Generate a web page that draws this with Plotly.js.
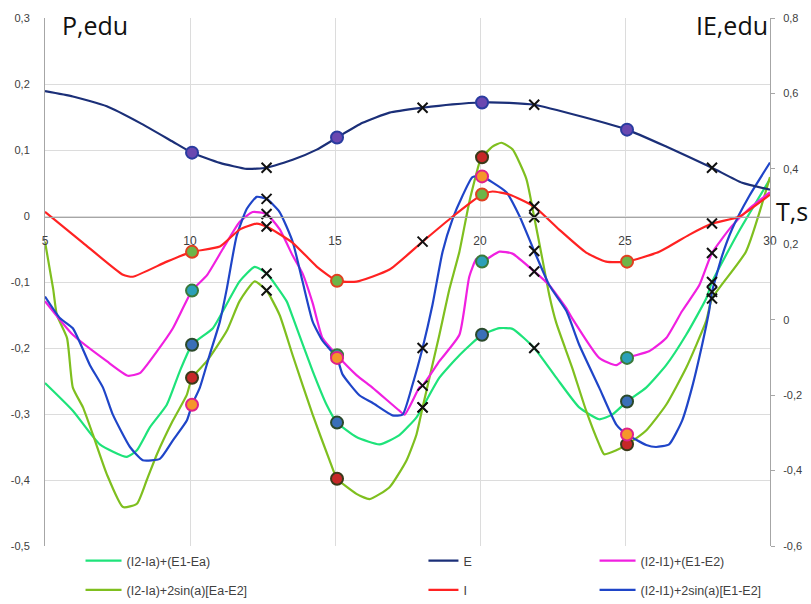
<!DOCTYPE html>
<html>
<head>
<meta charset="utf-8">
<script src="https://cdn.plot.ly/plotly-3.0.1.min.js"></script>
<style>html,body{margin:0;padding:0;background:#fff;}#chart{width:811px;height:604px;}</style>
</head>
<body>
<div id="chart"></div>
<script>
// ---- Data (T in s) ----
const circleT = [10.07, 15.07, 20.07, 25.07];
const crossT  = [12.64, 18.02, 21.87, 28.0];

// (I2-Ia)+(E1-Ea)  (left axis)
const greenT = [5,5.96,6.89,7.82,8.17,8.62,9.20,9.65,10.07,10.79,11.37,11.71,12.23,12.64,13.33,13.54,14.23,14.71,15.07,15.74,16.54,17.22,17.81,18.02,18.60,19.29,20.07,20.67,21.12,21.87,22.63,23.42,24.11,24.56,25.07,25.73,26.42,27.11,27.80,28.0,28.93,30];
const greenP = [-0.253,-0.295,-0.346,-0.365,-0.355,-0.320,-0.286,-0.235,-0.195,-0.170,-0.125,-0.099,-0.077,-0.087,-0.129,-0.153,-0.235,-0.286,-0.313,-0.335,-0.346,-0.332,-0.305,-0.290,-0.245,-0.211,-0.180,-0.170,-0.171,-0.200,-0.245,-0.290,-0.308,-0.301,-0.281,-0.260,-0.226,-0.180,-0.125,-0.100,-0.023,0.056];

// (I2-Ia)+2sin(a)[Ea-E2]  (left axis)
const oliveT = [5,5.28,5.41,5.76,5.96,6.31,6.65,7.13,7.69,8.17,8.51,8.86,9.41,9.89,10.07,10.58,11.27,11.71,12.23,12.64,13.09,13.54,14.23,14.81,15.07,15.74,16.19,16.88,17.47,17.81,18.02,18.60,18.95,19.29,19.63,19.98,20.07,20.43,20.74,21.12,21.60,21.87,22.15,22.39,22.63,23.18,23.66,24.11,24.28,24.70,25.07,25.73,26.42,27.11,27.80,28.0,29.17,30];
const oliveP = [-0.039,-0.110,-0.150,-0.185,-0.260,-0.290,-0.331,-0.391,-0.441,-0.436,-0.400,-0.361,-0.310,-0.271,-0.245,-0.220,-0.174,-0.129,-0.099,-0.113,-0.150,-0.211,-0.301,-0.370,-0.398,-0.421,-0.429,-0.411,-0.370,-0.331,-0.290,-0.180,-0.110,-0.054,0.021,0.081,0.089,0.105,0.111,0.101,0.056,-0.002,-0.065,-0.120,-0.162,-0.230,-0.295,-0.346,-0.361,-0.355,-0.346,-0.325,-0.286,-0.230,-0.159,-0.125,-0.054,0.059];

// (I2-I1)+(E1-E2)  (left axis)
const magT = [5,5.96,7.13,7.86,8.27,8.86,9.41,10.07,10.58,11.13,11.71,12.16,12.64,13.09,13.54,13.88,14.23,14.57,15.07,15.74,16.29,17.22,17.40,17.91,18.02,18.60,19.29,19.63,19.88,20.07,20.67,21.12,21.87,22.39,22.98,23.18,24.11,24.70,25.07,25.83,26.42,26.97,27.56,28.0,28.69,29.28,30];
const magP = [-0.129,-0.180,-0.220,-0.242,-0.238,-0.205,-0.170,-0.113,-0.090,-0.050,-0.009,0.006,0.003,-0.020,-0.060,-0.087,-0.132,-0.185,-0.211,-0.241,-0.260,-0.295,-0.301,-0.260,-0.257,-0.220,-0.180,-0.092,-0.065,-0.069,-0.054,-0.057,-0.084,-0.105,-0.140,-0.155,-0.215,-0.226,-0.215,-0.205,-0.185,-0.144,-0.105,-0.056,-0.015,0.011,0.036];

// (I2-I1)+2sin(a)[E1-E2]  (left axis)
const blueT = [5,5.52,5.96,6.55,7.00,7.34,7.93,8.37,8.96,9.41,9.89,10.07,10.34,10.68,11.03,11.27,11.61,11.96,12.30,12.64,13.09,13.54,13.88,14.23,14.57,15.07,15.26,15.85,16.29,16.98,17.33,17.67,18.02,18.36,18.71,19.05,19.39,19.74,20.07,20.43,20.91,21.36,21.87,22.39,22.98,23.42,24.11,24.70,25.07,25.73,26.07,26.52,26.97,27.31,27.66,27.90,28.0,28.35,28.69,29.28,30];
const blueP = [-0.122,-0.155,-0.170,-0.226,-0.260,-0.301,-0.350,-0.370,-0.368,-0.340,-0.310,-0.286,-0.260,-0.210,-0.160,-0.110,-0.030,0.011,0.029,0.026,0.006,-0.039,-0.099,-0.160,-0.189,-0.215,-0.240,-0.272,-0.283,-0.302,-0.301,-0.256,-0.200,-0.135,-0.054,-0.005,0.030,0.059,0.060,0.051,0.036,0.000,-0.053,-0.105,-0.144,-0.195,-0.260,-0.316,-0.331,-0.347,-0.350,-0.346,-0.310,-0.260,-0.195,-0.144,-0.115,-0.060,-0.020,0.030,0.081];

// E  (right axis)
const eT = [5,5.96,7.13,8.27,9.41,10.07,11.03,11.96,12.64,13.54,14.37,15.07,15.95,16.88,18.02,19.05,20.07,21.01,21.87,23.53,25.07,26.42,28.0,29.04,30];
const eV = [0.606,0.592,0.566,0.522,0.472,0.443,0.416,0.400,0.403,0.424,0.451,0.483,0.522,0.549,0.562,0.571,0.576,0.575,0.570,0.538,0.504,0.459,0.403,0.363,0.345];

// I  (right axis)
const iT = [5,6.31,7.69,8.03,9.20,10.07,11.03,11.71,12.30,12.64,13.54,14.37,15.07,15.74,16.88,18.02,19.05,20.07,20.43,21.01,21.87,22.73,23.66,24.35,25.07,26.18,27.21,28.0,28.93,30];
const iV = [0.286,0.204,0.119,0.114,0.154,0.180,0.194,0.239,0.255,0.247,0.204,0.141,0.103,0.101,0.133,0.207,0.273,0.332,0.340,0.332,0.300,0.239,0.178,0.154,0.154,0.180,0.225,0.255,0.273,0.332];

const xTicks = [5,10,15,20,25,30];
const yLeftTicks = [-0.5,-0.4,-0.3,-0.2,-0.1,0,0.1,0.2,0.3];
const yLeftText = ['-0,5','-0,4','-0,3','-0,2','-0,1','0','0,1','0,2','0,3'];
const yRightTicks = [-0.6,-0.4,-0.2,0,0.2,0.4,0.6,0.8];
const yRightText = ['-0,6','-0,4','-0,2','0','0,2','0,4','0,6','0,8'];

// ---- build traces ----
function pick(xs, ys, marks){
  const ox=[], oy=[];
  marks.forEach(m=>{ const k = xs.indexOf(m); if(k>=0){ox.push(xs[k]); oy.push(ys[k]);} });
  return {x:ox, y:oy};
}
const series = [
  {name:'(I2-Ia)+(E1-Ea)', x:greenT, y:greenP, color:'#1ee37a', fill:'#3a6fb8', edge:'#2b4a2b', axis:'y', legend:'legend'},
  {name:'(I2-Ia)+2sin(a)[Ea-E2]', x:oliveT, y:oliveP, color:'#7fbf1f', fill:'#c62828', edge:'#3a3a1a', axis:'y', legend:'legend'},
  {name:'E', x:eT, y:eV, color:'#1b2f78', fill:'#6a48b0', edge:'#2a3ca0', axis:'y2', legend:'legend2'},
  {name:'I', x:iT, y:iV, color:'#ff2222', fill:'#6cb548', edge:'#e04020', axis:'y2', legend:'legend2'},
  {name:'(I2-I1)+(E1-E2)', x:magT, y:magP, color:'#f020e0', fill:'#2aa0b8', edge:'#3a7a3a', axis:'y', legend:'legend3'},
  {name:'(I2-I1)+2sin(a)[E1-E2]', x:blueT, y:blueP, color:'#1f45c8', fill:'#f5962a', edge:'#e0208a', axis:'y', legend:'legend3'}
];
const traces = [];
series.forEach((s,i)=>{
  traces.push({type:'scatter', mode:'lines', name:s.name, x:s.x, y:s.y, yaxis:s.axis,
    line:{color:s.color, width:2.2, shape:'spline', smoothing:0.5},
    legend:s.legend, legendgroup:'g'+i, hoverinfo:'skip'});
});
series.forEach((s,i)=>{
  const c = pick(s.x, s.y, crossT);
  traces.push({type:'scatter', mode:'markers', x:c.x, y:c.y, yaxis:s.axis, showlegend:false, hoverinfo:'skip',
    marker:{symbol:'x-thin', size:10, line:{color:'#111', width:2}}});
});
series.forEach((s,i)=>{
  const c = pick(s.x, s.y, circleT);
  traces.push({type:'scatter', mode:'markers', x:c.x, y:c.y, yaxis:s.axis, showlegend:false, hoverinfo:'skip',
    marker:{symbol:'circle', size:12, color:s.fill, line:{color:s.edge, width:2}}});
});

const tickFont = {family:'Liberation Sans, Arial, sans-serif', size:11, color:'#404040'};
const legFont = {family:'Liberation Sans Narrow, Liberation Sans, Arial, sans-serif', size:12.5, color:'#404040'};
const legBase = {orientation:'v', xanchor:'left', yanchor:'top', y:0.0, font:legFont, bgcolor:'rgba(0,0,0,0)', itemwidth:36, tracegroupgap:10, traceorder:'grouped'};

const layout = {
  width:811, height:604,
  margin:{l:45, r:41, t:18, b:58, autoexpand:false},
  paper_bgcolor:'#ffffff', plot_bgcolor:'#ffffff',
  showlegend:true,
  xaxis:{range:[5,30], tickvals:xTicks, ticktext:xTicks.map(String), anchor:'free', position:0.623,
    showgrid:true, gridcolor:'#dcdcdc', gridwidth:1, zeroline:false,
    showline:true, linecolor:'#a6a6a6', linewidth:1.2, ticks:'', tickfont:{family:'Liberation Sans, Arial, sans-serif', size:12, color:'#404040'}, ticklabelstandoff:12},
  yaxis:{range:[-0.5,0.3], tickvals:yLeftTicks, ticktext:yLeftText, showgrid:true, gridcolor:'#dcdcdc', gridwidth:1,
    zeroline:false, showline:true, linecolor:'#a6a6a6', linewidth:1, ticks:'', tickfont:tickFont, ticklabelstandoff:12},
  yaxis2:{range:[-0.6,0.8], tickvals:yRightTicks, ticktext:yRightText, overlaying:'y', side:'right', showgrid:false,
    zeroline:false, showline:true, linecolor:'#a6a6a6', linewidth:1, ticks:'outside', ticklen:4, tickcolor:'#a6a6a6', tickfont:tickFont, ticklabelstandoff:6},
  legend:Object.assign({}, legBase, {x:0.049}),
  legend2:Object.assign({}, legBase, {x:0.522, itemwidth:30}),
  legend3:Object.assign({}, legBase, {x:0.758}),
  annotations:[
    {text:'P,edu', xref:'paper', yref:'paper', x:0.02, y:0.987, xanchor:'left', yanchor:'middle', showarrow:false, font:{family:'Open Sans, Noto Sans, sans-serif', size:25, color:'#111'}},
    {text:'IE,edu', xref:'paper', yref:'paper', x:1.0, y:0.987, xanchor:'right', yanchor:'middle', showarrow:false, font:{family:'Open Sans, Noto Sans, sans-serif', size:25, color:'#111'}},
    {text:'T,s', xref:'paper', yref:'paper', x:1.006, y:0.634, xanchor:'left', yanchor:'middle', showarrow:false, font:{family:'Open Sans, Noto Sans, sans-serif', size:25, color:'#111'}}
  ]
};
Plotly.newPlot('chart', traces, layout, {displayModeBar:false, staticPlot:true});
</script>
</body>
</html>
